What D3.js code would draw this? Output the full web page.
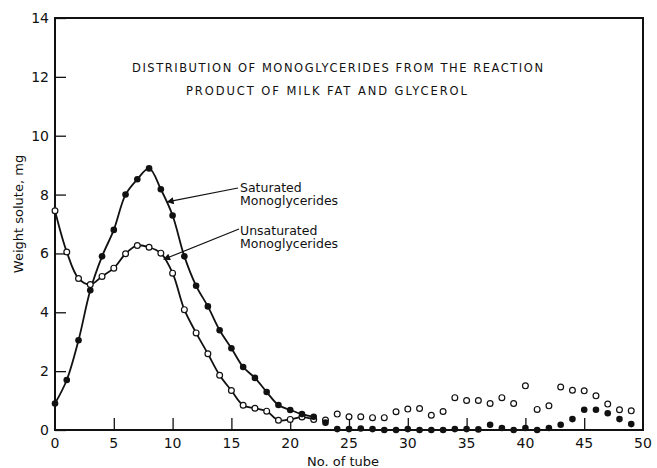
<!DOCTYPE html>
<html>
<head>
<meta charset="utf-8">
<script src="https://cdn.jsdelivr.net/npm/d3@7"></script>
<style>
  body { margin: 0; background: #fff; }
  svg { display: block; }
  text { font-family: "DejaVu Sans", sans-serif; fill: #111; }
</style>
</head>
<body>
<div id="chart"></div>
<script>
// tube numbers and readings (mg)
var tubes = d3.range(0, 50);
var saturated = [0.9, 1.7, 3.05, 4.75, 5.9, 6.8, 8.0, 8.52, 8.89, 8.18,
  7.29, 5.9, 4.9, 4.2, 3.39, 2.78, 2.14, 1.77, 1.29, 0.85,
  0.68, 0.54, 0.45, 0.25, 0.03, 0.03, 0.05, 0.03, 0.0, 0.0,
  0.03, 0.0, 0.0, 0.0, 0.03, 0.03, 0.02, 0.18, 0.07, 0.0,
  0.07, 0.0, 0.07, 0.18, 0.37, 0.69, 0.69, 0.57, 0.37, 0.2];
var unsaturated = [7.45, 6.05, 5.15, 4.94, 5.22, 5.5, 5.99, 6.27, 6.21, 6.01,
  5.33, 4.09, 3.3, 2.59, 1.86, 1.34, 0.84, 0.74, 0.64, 0.33,
  0.36, 0.44, 0.36, 0.34, 0.54, 0.45, 0.45, 0.42, 0.42, 0.62,
  0.71, 0.73, 0.5, 0.63, 1.1, 1.0, 1.0, 0.9, 1.1, 0.9,
  1.5, 0.7, 0.82, 1.46, 1.35, 1.33, 1.16, 0.88, 0.69, 0.65];
var curveEnd = 22;   // fitted curves drawn through tube 22
var yTicks = [0, 2, 4, 6, 8, 10, 12, 14];
var xTicks = [0, 5, 10, 15, 20, 25, 30, 35, 40, 45, 50];

var W = 657, H = 468;
var plotL = 55, plotR = 643, plotT = 18, plotB = 430;

var svg = d3.select("#chart").append("svg")
  .attr("width", W).attr("height", H);

var x = d3.scaleLinear().domain([0, 50]).range([plotL, plotR]);
var y = d3.scaleLinear().domain([0, 14]).range([plotB, plotT]);

svg.append("defs").append("marker")
  .attr("id", "arr")
  .attr("viewBox", "0 0 10 10")
  .attr("refX", 9).attr("refY", 5)
  .attr("markerWidth", 9).attr("markerHeight", 7)
  .attr("markerUnits", "userSpaceOnUse")
  .attr("orient", "auto")
  .append("path").attr("d", "M0,0L10,5L0,10z").attr("fill", "#111");

// frame
svg.append("rect")
  .attr("x", plotL).attr("y", plotT)
  .attr("width", plotR - plotL).attr("height", plotB - plotT)
  .attr("fill", "none").attr("stroke", "#111").attr("stroke-width", 2);

// y axis: ticks point inward
var yAxis = svg.append("g")
  .attr("transform", "translate(" + plotL + ",0)")
  .call(d3.axisRight(y).tickValues(yTicks).tickSize(11).tickFormat(""));
yAxis.select(".domain").remove();
yAxis.selectAll("line").attr("stroke", "#111").attr("stroke-width", 1.3);
svg.selectAll(".ylab").data(yTicks).enter().append("text")
  .attr("x", plotL - 6).attr("y", function (d) { return y(d); })
  .attr("dy", "0.36em")
  .attr("text-anchor", "end")
  .attr("font-size", 14)
  .text(function (d) { return d; });

// x axis: ticks point up
var xAxis = svg.append("g")
  .attr("transform", "translate(0," + plotB + ")")
  .call(d3.axisTop(x).tickValues(xTicks.filter(function (d) { return d > 0 && d < 50; }))
    .tickSize(12).tickFormat(""));
xAxis.select(".domain").remove();
xAxis.selectAll("line").attr("stroke", "#111").attr("stroke-width", 1.3);
svg.selectAll(".xlab").data(xTicks).enter().append("text")
  .attr("x", function (d) { return x(d); }).attr("y", plotB + 13)
  .attr("dy", "0.36em")
  .attr("text-anchor", "middle")
  .attr("font-size", 14)
  .text(function (d) { return d; });

svg.append("text")
  .attr("x", 343).attr("y", 461).attr("dy", "0.36em")
  .attr("text-anchor", "middle").attr("font-size", 13)
  .text("No. of tube");
svg.append("text")
  .attr("transform", "translate(18,214) rotate(-90)")
  .attr("dy", "0.36em")
  .attr("text-anchor", "middle").attr("font-size", 13)
  .text("Weight solute, mg");

// fitted curves
var line = d3.line()
  .x(function (d) { return x(d[0]); })
  .y(function (d) { return y(d[1]); })
  .curve(d3.curveCatmullRom.alpha(0.5));
function upTo(vals) {
  return tubes.filter(function (t) { return t <= curveEnd; })
    .map(function (t) { return [t, vals[t]]; });
}
svg.append("path").datum(upTo(saturated))
  .attr("d", line).attr("fill", "none").attr("stroke", "#111").attr("stroke-width", 1.8);
svg.append("path").datum(upTo(unsaturated))
  .attr("d", line).attr("fill", "none").attr("stroke", "#111").attr("stroke-width", 1.8);

// points
svg.selectAll(".ou").data(tubes).enter().append("circle")
  .attr("cx", function (t) { return x(t); })
  .attr("cy", function (t) { return y(unsaturated[t]); })
  .attr("r", 2.9)
  .attr("fill", "#fff").attr("stroke", "#111").attr("stroke-width", 1.2);
svg.selectAll(".fs").data(tubes).enter().append("circle")
  .attr("cx", function (t) { return x(t); })
  .attr("cy", function (t) { return y(saturated[t]); })
  .attr("r", 3.3)
  .attr("fill", "#111");

// title
svg.append("text").attr("x", 132).attr("y", 68).attr("dy", "0.36em")
  .attr("font-size", 11.5).attr("textLength", 411).attr("lengthAdjust", "spacing")
  .text("DISTRIBUTION OF MONOGLYCERIDES  FROM THE REACTION");
svg.append("text").attr("x", 186).attr("y", 91).attr("dy", "0.36em")
  .attr("font-size", 11.5).attr("textLength", 281).attr("lengthAdjust", "spacing")
  .text("PRODUCT OF MILK FAT  AND GLYCEROL");

// annotations
var notes = [
  { lines: ["Saturated", "Monoglycerides"], ty: 187, from: [238, 188], to: [x(9.55), y(7.75)] },
  { lines: ["Unsaturated", "Monoglycerides"], ty: 230, from: [239, 229], to: [x(9.25), y(5.8)] }
];
notes.forEach(function (n) {
  svg.append("line")
    .attr("x1", n.from[0]).attr("y1", n.from[1])
    .attr("x2", n.to[0]).attr("y2", n.to[1])
    .attr("stroke", "#111").attr("stroke-width", 1.2)
    .attr("marker-end", "url(#arr)");
  n.lines.forEach(function (s, i) {
    svg.append("text").attr("x", 240).attr("y", n.ty + i * 13.5).attr("dy", "0.36em")
      .attr("font-size", 12.5).text(s);
  });
});
</script>
</body>
</html>
